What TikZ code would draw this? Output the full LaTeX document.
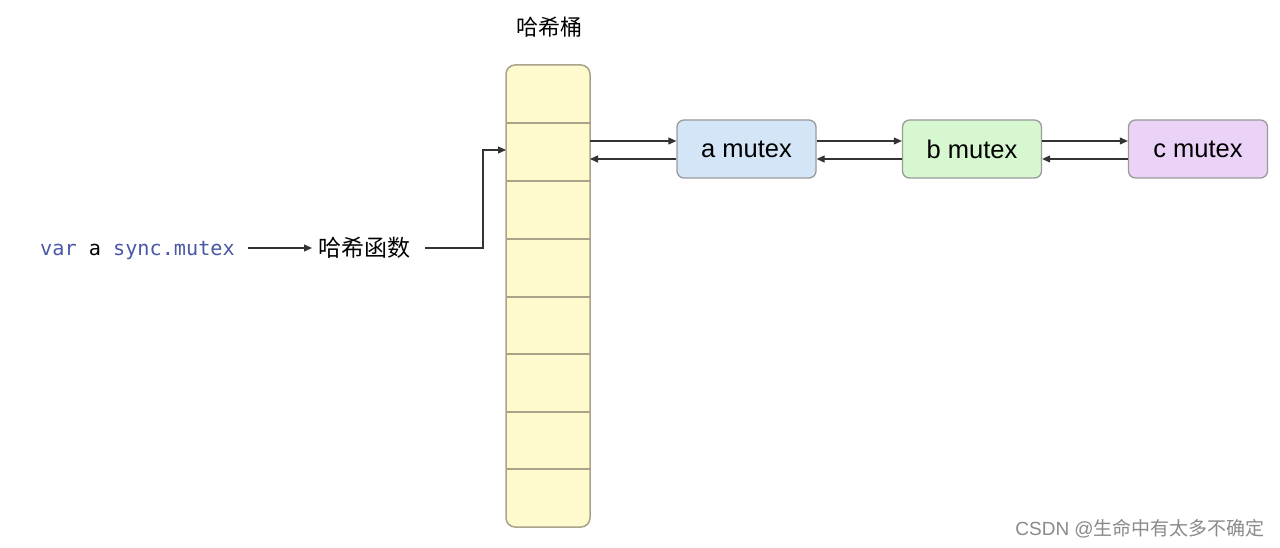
\documentclass[tikz,border=0pt]{standalone}
\usepackage{fontspec}
\setmainfont{Liberation Sans}
\setmonofont{DejaVu Sans Mono}
\newfontfamily\cjk{Noto Sans CJK SC}
\usetikzlibrary{arrows.meta}
\definecolor{bucketfill}{HTML}{FFF9CE}
\definecolor{bucketline}{HTML}{A8A48A}
\definecolor{afill}{HTML}{D3E5F7}
\definecolor{bfill}{HTML}{D6F7D0}
\definecolor{cfill}{HTML}{EBD3F7}
\definecolor{boxline}{HTML}{9A9A9A}
\definecolor{codeblue}{HTML}{4A58A8}
\definecolor{wm}{HTML}{8A8A8A}
\tikzset{
  mbox/.style={draw=boxline, line width=1.3pt, rounded corners=7pt, minimum width=139pt, minimum height=58pt, inner sep=0pt, font=\fontsize{25.5}{30}\selectfont},
  conn/.style={draw=black!80, line width=1.1pt, -{Triangle[length=8pt,width=7pt]}},
}
\begin{document}
\begin{tikzpicture}[x=1pt,y=-1pt]
\useasboundingbox[fill=white] (0,0) rectangle (1280,548);
% bucket
\node[font=\cjk\fontsize{22}{26}\selectfont] (title) at (549,27) {哈希桶};
\draw[bucketline, fill=bucketfill, line width=1.5pt, rounded corners=9pt] (506,65) rectangle (590,527);
\foreach \y in {123,181,239,297,354,412,469} {
  \draw[bucketline, line width=1.5pt] (506,\y) -- (590,\y);
}
\coordinate (bR1) at (590,141);
\coordinate (bR2) at (590,159);
\coordinate (bL) at (506,150);
% mutex boxes
\node[mbox, fill=afill] (a) at (746.5,149) {a mutex};
\node[mbox, fill=bfill] (b) at (972,149) {b mutex};
\node[mbox, fill=cfill] (c) at (1198,149) {c mutex};
% connectors
\draw[conn] (bR1) -- (bR1 -| a.west);
\draw[conn] (bR2 -| a.west) -- (bR2);
\draw[conn] (bR1 -| a.east) -- (bR1 -| b.west);
\draw[conn] (bR2 -| b.west) -- (bR2 -| a.east);
\draw[conn] (bR1 -| b.east) -- (bR1 -| c.west);
\draw[conn] (bR2 -| c.west) -- (bR2 -| b.east);
% left part
\node[anchor=base west, inner sep=0pt, font=\ttfamily\fontsize{20.2}{24}\selectfont] (var) at (40,255) {\textcolor{codeblue}{var} a \textcolor{codeblue}{sync.mutex}};
\node[anchor=base west, inner sep=0pt, font=\cjk\fontsize{23}{27}\selectfont] (hf) at (318,256) {哈希函数};
\coordinate (vs) at (248,248);
\draw[conn] (vs) -- ([xshift=-6pt]vs -| hf.west);
\coordinate (hs) at (425,248);
\coordinate (turn) at (483,248);
\draw[conn] (hs) -- (turn) -- (turn |- bL) -- (bL);
% watermark
\node[anchor=east, inner sep=0pt, text=wm, font=\fontsize{19}{22}\selectfont] (wmk) at (1265,529) {CSDN @{\cjk 生命中有太多不确定}};
\end{tikzpicture}
\end{document}
